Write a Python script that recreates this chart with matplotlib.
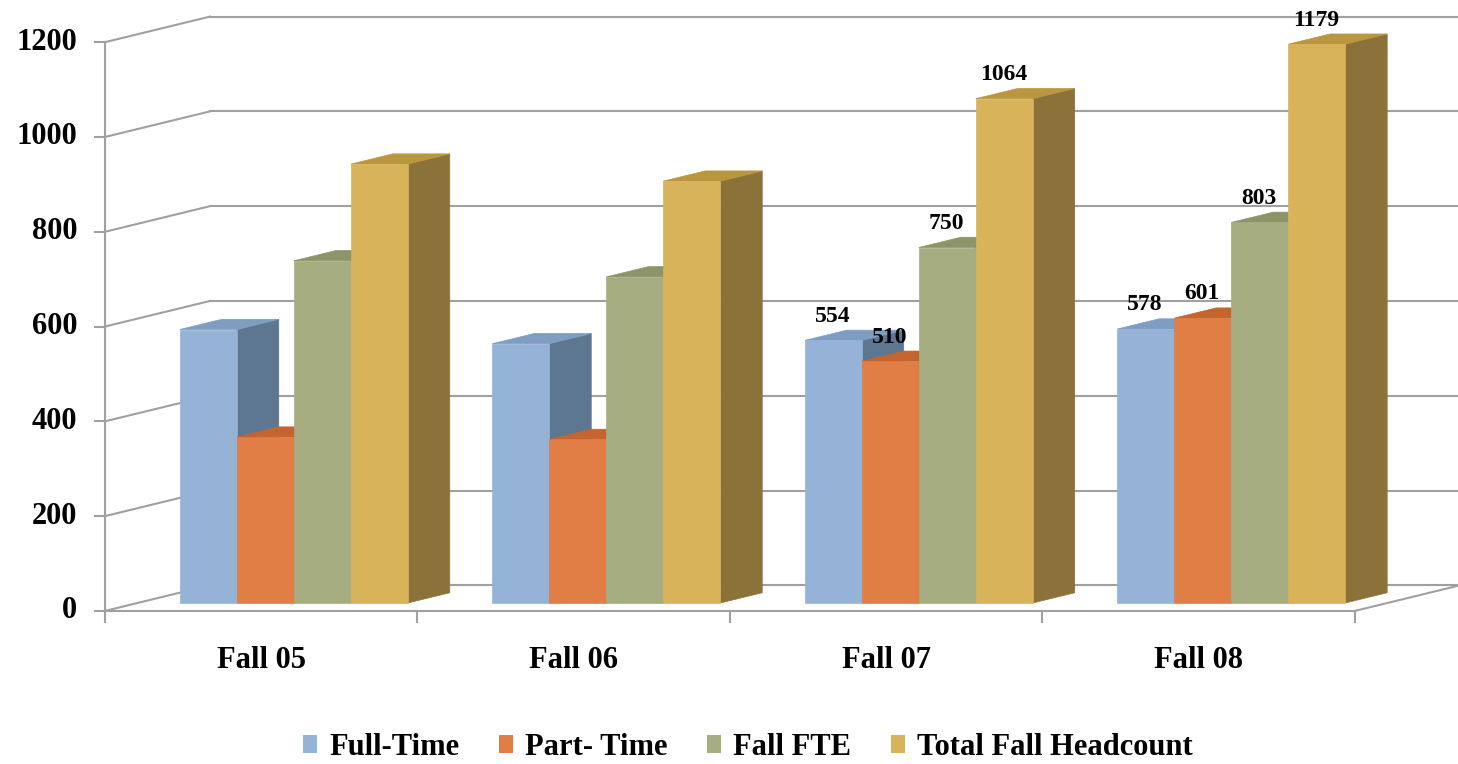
import matplotlib
matplotlib.use('Agg')
import matplotlib.pyplot as plt
from matplotlib.patches import Polygon, Patch

# Data
categories = ['Fall 05', 'Fall 06', 'Fall 07', 'Fall 08']
series_names = ['Full-Time', 'Part- Time', 'Fall FTE', 'Total Fall Headcount']
full_time = [577, 547, 554, 578]
part_time = [350, 345, 510, 601]
fall_fte = [722, 688, 750, 803]
total_headcount = [926, 890, 1064, 1179]
show_labels = [False, False, True, True]
y_ticks = [0, 200, 400, 600, 800, 1000, 1200]

series = [full_time, part_time, fall_fte, total_headcount]
front_colors = ['#95B3D7', '#E07E45', '#A6AD80', '#D9B35A']
top_colors = ['#7E9DC2', '#C4652F', '#8C9468', '#BA963F']
side_colors = ['#5E7791', '#9A5227', '#6E7550', '#8B7238']

plt.rcParams['font.family'] = ['Liberation Serif', 'DejaVu Serif']
plt.rcParams['font.weight'] = 'bold'

# fake 3d: depth offset of the whole floor, bar depth range
DX, DY = 0.336, 54
Z0, Z1 = 0.31, 0.71
W = 0.1824
grid_color = '#A0A0A0'


def proj(x, y, z):
    return (x + z * DX, y + z * DY)


fig = plt.figure(figsize=(14.58, 7.64), dpi=100)
ax = fig.add_axes([0, 0, 1, 1])
ax.set_xlim(-0.836, 3.83)
ax.set_ylim(-323, 1289)
ax.axis('off')

left, right = -0.5, len(categories) - 0.5

# walls and grid
for v in y_ticks:
    p0, p1 = proj(left, v, 0), proj(left, v, 1)
    ax.plot([p0[0], p1[0]], [p0[1], p1[1]], color=grid_color, lw=1.5, zorder=1)
    p2 = proj(right + 0.6, v, 1)
    ax.plot([p1[0], p2[0]], [p1[1], p2[1]], color=grid_color, lw=1.5, zorder=1)
    ax.plot([left - 0.032, left], [v, v], color=grid_color, lw=1.5, zorder=1)
    ax.text(left - 0.088, v, str(v), ha='right', va='center',
            fontsize=22, fontweight='bold')

ax.plot([left, left], [0, y_ticks[-1]], color=grid_color, lw=1.5, zorder=1)
ax.plot([left, right], [0, 0], color=grid_color, lw=1.5, zorder=1)
pr0, pr1 = proj(right, 0, 0), proj(right, 0, 1)
ax.plot([pr0[0], pr1[0]], [pr0[1], pr1[1]], color=grid_color, lw=1.5, zorder=1)
for t in range(len(categories) + 1):
    ax.plot([left + t, left + t], [0, -24], color=grid_color, lw=1.5, zorder=1)

for i, cat in enumerate(categories):
    ax.text(i, -105, cat, ha='center', va='center', fontsize=22, fontweight='bold')

# bars
for i in range(len(categories)):
    for k, vals in enumerate(series):
        v = vals[i]
        x0 = i - 2 * W + k * W
        x1 = x0 + W
        side = [proj(x1, 0, Z0), proj(x1, 0, Z1), proj(x1, v, Z1), proj(x1, v, Z0)]
        top = [proj(x0, v, Z0), proj(x1, v, Z0), proj(x1, v, Z1), proj(x0, v, Z1)]
        front = [proj(x0, 0, Z0), proj(x1, 0, Z0), proj(x1, v, Z0), proj(x0, v, Z0)]
        for poly, col in ((side, side_colors[k]), (top, top_colors[k]), (front, front_colors[k])):
            ax.add_patch(Polygon(poly, closed=True, facecolor=col, edgecolor=col,
                                 lw=0.5, zorder=3))
        if show_labels[i]:
            cx, cy = proj((x0 + x1) / 2, v, Z0)
            ax.text(cx - 0.003, cy + 51, str(v), ha='center', va='center',
                    fontsize=17, fontweight='bold', zorder=5)

handles = [Patch(facecolor=c, edgecolor='none') for c in front_colors]
fig.legend(handles, series_names, loc='center', bbox_to_anchor=(0.513, 0.022),
           ncol=4, frameon=False, handlelength=0.45, handleheight=0.5,
           handletextpad=0.4, columnspacing=1.3,
           prop={'family': 'Liberation Serif', 'weight': 'bold', 'size': 22})

fig.savefig('out.png', dpi=100)
